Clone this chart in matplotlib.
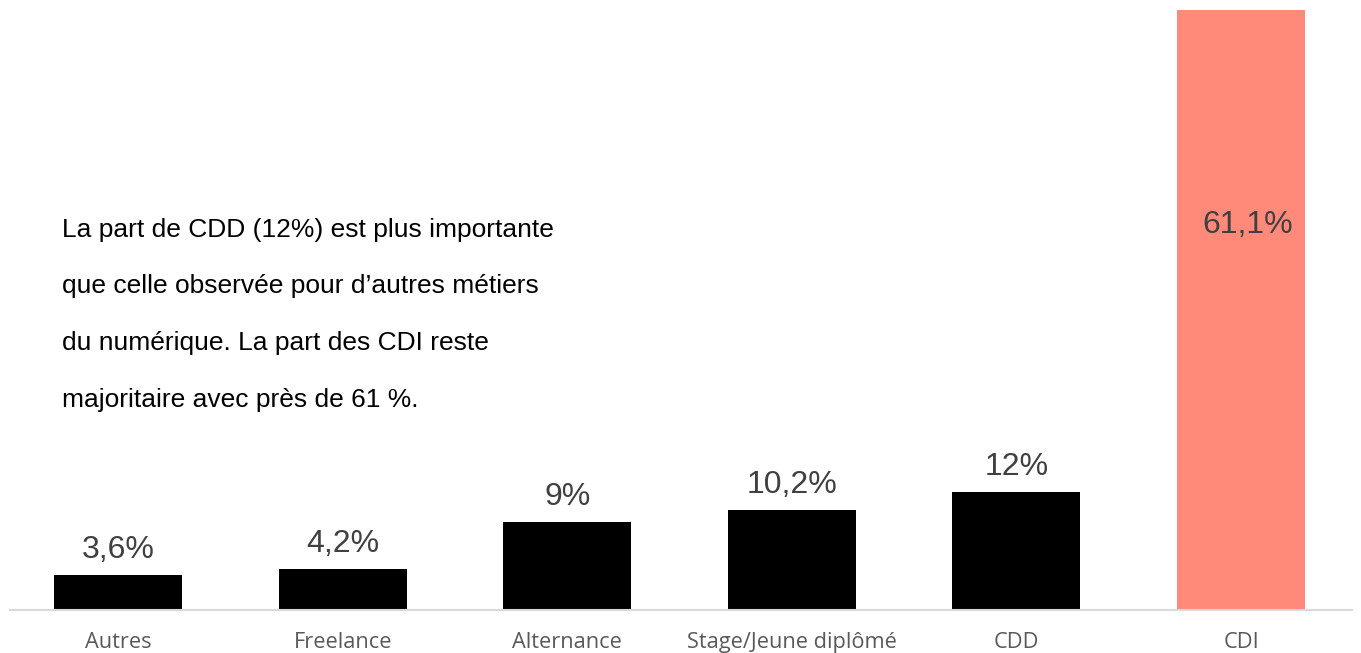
import numpy as np
import matplotlib.pyplot as plt

categories = ["Autres", "Freelance", "Alternance", "Stage/Jeune diplômé", "CDD", "CDI"]
values = [3.6, 4.2, 9.0, 10.2, 12.0, 61.1]
value_labels = ["3,6%", "4,2%", "9%", "10,2%", "12%", "61,1%"]
bar_colors = ["#000000"] * 5 + ["#FF8A7A"]

note_lines = [
    "La part de CDD (12%) est plus importante",
    "que celle observée pour d\u2019autres métiers",
    "du numérique. La part des CDI reste",
    "majoritaire avec près de 61 %.",
]

fig = plt.figure(figsize=(13.61, 6.53), dpi=100)
ax = fig.add_axes([10 / 1361, 43 / 653, 1342 / 1361, 600 / 653])

x = np.arange(len(categories))
bars = ax.bar(x, values, width=0.57, color=bar_colors)

ax.set_xlim(-0.481, 5.494)
ax.set_ylim(0, values[-1])

# value labels: above the black bars, inside the big one
for i, (b, lab) in enumerate(zip(bars, value_labels)):
    if i == len(bars) - 1:
        ax.text(b.get_x() + b.get_width() / 2 + 0.03, 39.2, lab, ha="center", va="center",
                fontsize=23, color="#404040", family="Liberation Sans")
    else:
        ax.text(b.get_x() + b.get_width() / 2, b.get_height() + 1.0, lab, ha="center",
                va="bottom", fontsize=23, color="#404040", family="Liberation Sans")

# commentary block
for k, line in enumerate(note_lines):
    fig.text(62 / 1361, 1 - (230 + 56.5 * k) / 653, line, ha="left", va="center",
             fontsize=19, color="#000000", family="Liberation Sans")

ax.set_xticks(x)
ax.set_xticklabels(categories, fontsize=15.7, color="#595959", family="Open Sans")
ax.tick_params(axis="x", length=0, pad=16)
ax.set_yticks([])
for s in ["top", "right", "left"]:
    ax.spines[s].set_visible(False)
ax.spines["bottom"].set_color("#D9D9D9")
ax.spines["bottom"].set_linewidth(1.5)

fig.savefig("out.png", dpi=100)
